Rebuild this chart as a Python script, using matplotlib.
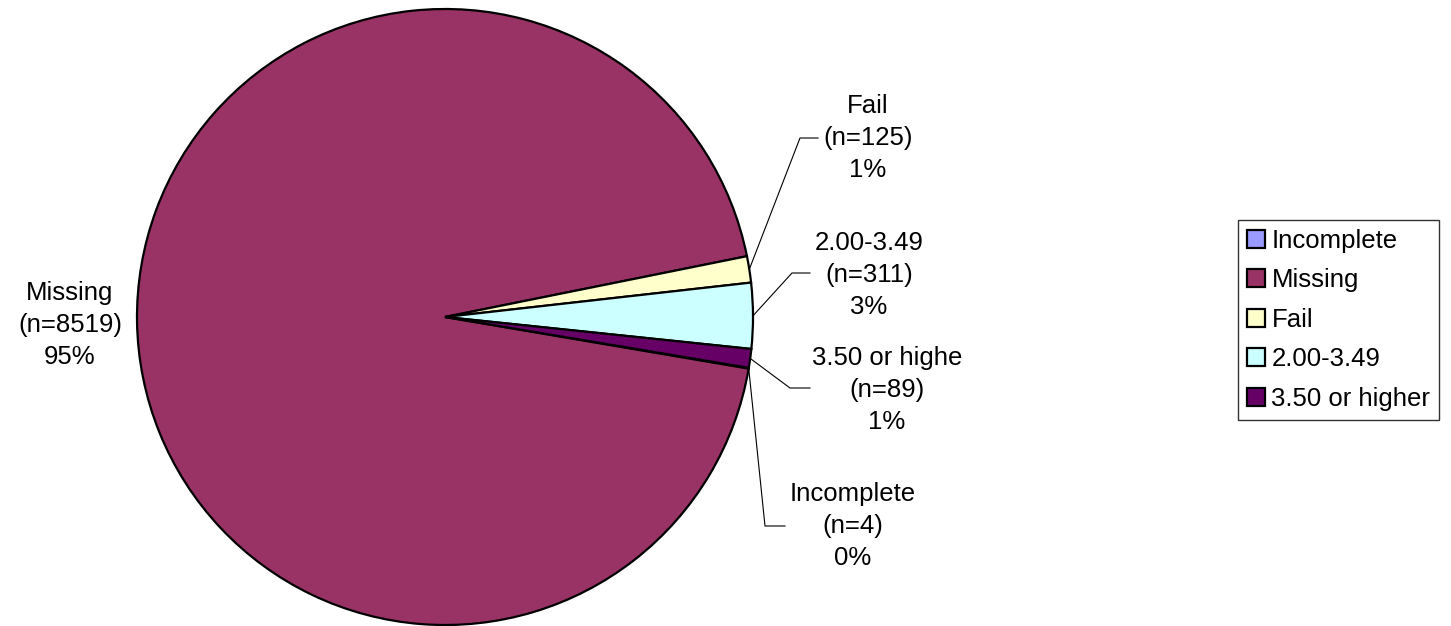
import matplotlib
matplotlib.use("Agg")
import matplotlib.pyplot as plt
import numpy as np

plt.rcParams["font.family"] = ["Liberation Sans", "DejaVu Sans"]

# data
categories = ["Incomplete", "Missing", "Fail", "2.00-3.49", "3.50 or higher"]
counts = [4, 8519, 125, 311, 89]
label_names = ["Incomplete", "Missing", "Fail", "2.00-3.49", "3.50 or highe"]
percent_labels = ["0%", "95%", "1%", "3%", "1%"]
colors = ["#9999FF", "#993366", "#FFFFCC", "#CCFFFF", "#660066"]

W, H = 1451, 626
fig = plt.figure(figsize=(W / 100, H / 100), dpi=100)
ax = fig.add_axes([0, 0, 1, 1])

cx, cy, r = 445, H - 317, 308
wedges, _ = ax.pie(counts, colors=colors, startangle=-9.5, counterclock=False,
                   center=(cx, cy), radius=r,
                   wedgeprops=dict(edgecolor="black", linewidth=1.6))
ax.set_xlim(0, W)
ax.set_ylim(0, H)
ax.set_aspect("equal")
ax.axis("off")

# label text centre (pixels) and leader elbow (None = no leader)
label_pos = [(853, 526), (70, 325), (868, 138), (869, 275), (887, 390)]
elbows = [((765, 526), (785, 526)), None, ((800, 138), (818, 138)),
          ((792, 273), (810, 273)), ((790, 388), (810, 388))]

fs = 18.5
for w, name, n, pct, pos, elb in zip(wedges, label_names, counts, percent_labels, label_pos, elbows):
    ax.text(pos[0], H - pos[1], f"{name}\n(n={n})\n{pct}", ha="center", va="center",
            fontsize=fs, linespacing=1.42)
    if elb is not None:
        mid = np.deg2rad((w.theta1 + w.theta2) / 2)
        x0, y0 = cx + r * np.cos(mid), cy + r * np.sin(mid)
        xs = [x0, elb[0][0], elb[1][0]]
        ys = [y0, H - elb[0][1], H - elb[1][1]]
        ax.plot(xs, ys, color="black", linewidth=0.8)

leg = fig.legend(wedges, categories, loc="upper left",
                 bbox_to_anchor=(1238 / W, 1 - 220 / H), borderaxespad=0,
                 fontsize=fs, frameon=True, fancybox=False,
                 handlelength=0.7, handleheight=0.7, handletextpad=0.25,
                 labelspacing=0.6, borderpad=0.35)
leg.get_frame().set_edgecolor("black")
leg.get_frame().set_linewidth(1.0)

fig.savefig("out.png", dpi=100)
